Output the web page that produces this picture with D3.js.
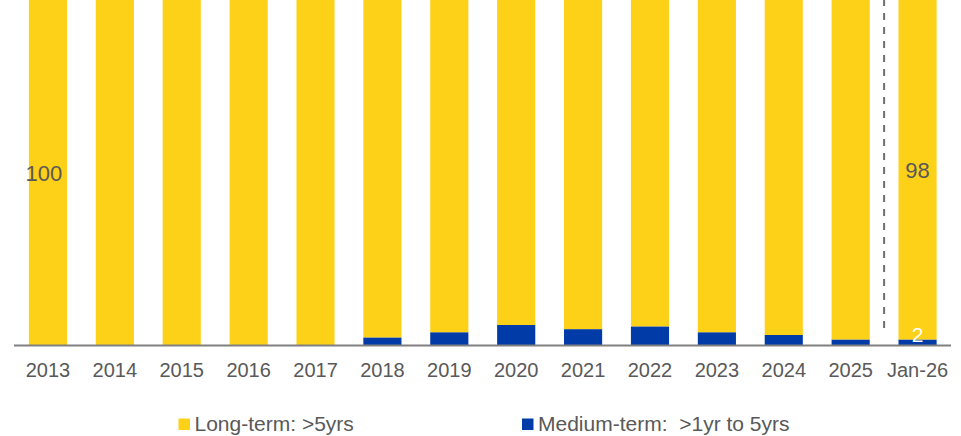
<!DOCTYPE html>
<html>
<head>
<meta charset="utf-8">
<script src="https://cdn.jsdelivr.net/npm/d3@7"></script>
<style>
  html, body { margin: 0; padding: 0; background: #ffffff; }
  svg { display: block; font-family: Arial, "Liberation Sans", sans-serif; }
</style>
</head>
<body>
<svg id="chart" width="961" height="436"></svg>
<script>
const categories = ["2013","2014","2015","2016","2017","2018","2019","2020","2021","2022","2023","2024","2025","Jan-26"];
const mediumTerm = [0, 0, 0, 0, 0, 2.2, 3.7, 5.8, 4.6, 5.4, 3.7, 2.9, 1.6, 1.6];
const longTerm = mediumTerm.map(v => 100 - v);
const seriesNames = ["Long-term: >5yrs", "Medium-term:  >1yr to 5yrs"];
const labelledLong = ["2013", "Jan-26"];
const labelledMedium = ["Jan-26"];
const dividerAfter = "2025";

const colors = { long: "#FDD118", medium: "#003BA8" };
const textColor = "#595959";

const svg = d3.select("#chart");
const W = 961;
const baseY = 345;

const x = d3.scaleBand().domain(categories).range([14.5, 951]).paddingInner(0.43).paddingOuter(0.215);
const y = d3.scaleLinear().domain([0, 100]).range([baseY, 0]);

const rows = categories.map((c, i) => ({ cat: c, medium: mediumTerm[i], long: longTerm[i] }));
const stack = d3.stack().keys(["medium", "long"])(rows);

const g = svg.append("g");
g.selectAll("g.series").data(stack).join("g")
  .attr("class", "series")
  .attr("fill", d => colors[d.key])
  .selectAll("rect").data(d => d).join("rect")
  .attr("x", d => x(d.data.cat))
  .attr("width", x.bandwidth())
  .attr("y", d => y(d[1]))
  .attr("height", d => Math.max(0, y(d[0]) - y(d[1])));

// divider
const i1 = categories.indexOf(dividerAfter);
const divX = (x(categories[i1]) + x.bandwidth() + x(categories[i1 + 1])) / 2;
svg.append("line")
  .attr("x1", divX).attr("x2", divX)
  .attr("y1", 0).attr("y2", baseY - 10)
  .attr("stroke", "#6f6f6f").attr("stroke-width", 2)
  .attr("stroke-dasharray", "7 7").attr("stroke-dashoffset", 1);

// axis
const axis = d3.axisBottom(x).tickSize(0).tickPadding(18);
const ax = svg.append("g").attr("transform", `translate(0,${baseY})`).call(axis);
ax.select(".domain").attr("stroke", "#808080").attr("stroke-width", 2).attr("d", `M14,0.5H951`);
ax.selectAll("text").attr("font-size", 20).attr("fill", textColor).attr("font-family", "Arial, 'Liberation Sans', sans-serif");

// value labels
const fmt = d3.format(".0f");
rows.forEach(r => {
  if (labelledLong.includes(r.cat)) {
    const mid = (y(r.medium) + y(100)) / 2;
    svg.append("text")
      .attr("x", x(r.cat) + x.bandwidth() / 2 + (r.cat === "2013" ? -4 : 0))
      .attr("y", mid + 8)
      .attr("text-anchor", "middle")
      .attr("font-size", 22)
      .attr("fill", textColor)
      .text(fmt(r.long));
  }
  if (labelledMedium.includes(r.cat)) {
    svg.append("text")
      .attr("x", x(r.cat) + x.bandwidth() / 2)
      .attr("y", y(0) - 3)
      .attr("text-anchor", "middle")
      .attr("font-size", 21)
      .attr("fill", "#ffffff")
      .text(fmt(r.medium));
  }
});

// legend
const legendItems = [
  { name: seriesNames[0], color: colors.long, x: 178.5 },
  { name: seriesNames[1], color: colors.medium, x: 522 }
];
const lg = svg.append("g");
legendItems.forEach(it => {
  lg.append("rect").attr("x", it.x).attr("y", 418.5).attr("width", 11.5).attr("height", 11.5).attr("fill", it.color);
  lg.append("text").attr("x", it.x + 16).attr("y", 431)
    .attr("font-size", 21).attr("fill", textColor)
    .style("white-space", "pre")
    .text(it.name);
});
</script>
</body>
</html>
